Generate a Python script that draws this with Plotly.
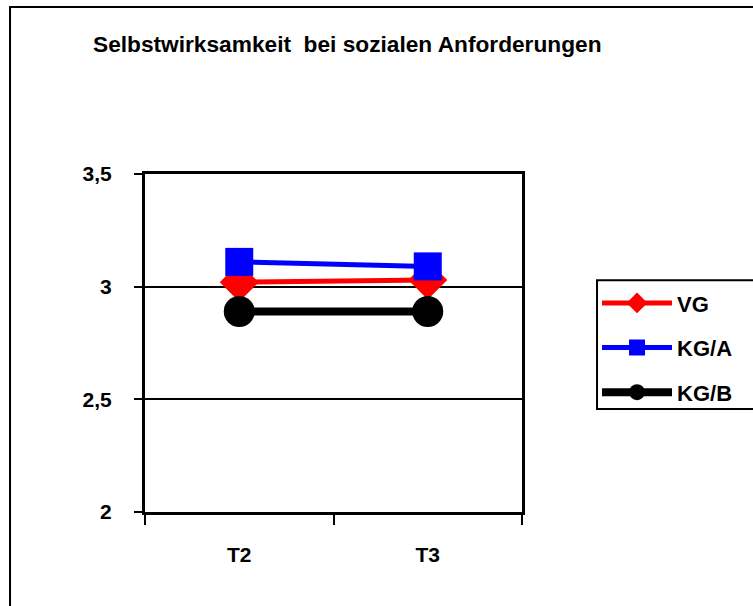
import plotly.graph_objects as go

zeitpunkte = ["T2", "T3"]
vg = [3.02, 3.03]
kg_a = [3.11, 3.09]
kg_b = [2.89, 2.89]

FONT = "Liberation Sans"

fig = go.Figure()
fig.add_trace(go.Scatter(
    x=zeitpunkte, y=vg, name="<b>VG</b>", mode="lines+markers", legendgroup="a",
    line=dict(color="#ff0000", width=5),
    marker=dict(symbol="diamond", size=30, color="#ff0000"),
))
fig.add_trace(go.Scatter(
    x=zeitpunkte, y=kg_a, name="<b>KG/A</b>", mode="lines+markers", legendgroup="b",
    line=dict(color="#0000ff", width=5),
    marker=dict(symbol="square", size=28, color="#0000ff"),
))
fig.add_trace(go.Scatter(
    x=zeitpunkte, y=kg_b, name="<b>KG/B</b>", mode="lines+markers", legendgroup="c",
    line=dict(color="#000000", width=8),
    marker=dict(symbol="circle", size=31, color="#000000"),
))

# outer frame of the chart (left and top edges visible, the rest runs off the page)
fig.add_shape(type="rect", xref="paper", yref="paper",
              x0=-0.358, x1=3, y0=-1, y1=1.494,
              line=dict(color="black", width=2), layer="below")
# legend frame, cut off at the right edge like in the original
fig.add_shape(type="rect", xref="paper", yref="paper",
              x0=1.199, x1=3, y0=0.305, y1=0.686,
              line=dict(color="black", width=2), layer="below")

fig.update_layout(
    width=753, height=606,
    paper_bgcolor="white", plot_bgcolor="white",
    separators=", ",
    font=dict(family=FONT, size=21, color="black"),
    title=dict(
        text="<b>Selbstwirksamkeit  bei sozialen Anforderungen</b>",
        xref="container", x=93 / 753, xanchor="left",
        yref="container", y=1 - 44 / 606, yanchor="middle",
        font=dict(family=FONT, size=22.7, color="black"),
    ),
    margin=dict(l=145, r=231, t=174, b=94, autoexpand=False),
    showlegend=True,
    legend=dict(
        x=1.199, xanchor="left", y=0.68, yanchor="top",
        borderwidth=0, bgcolor="rgba(0,0,0,0)",
        font=dict(family=FONT, size=22, color="black"),
        itemwidth=70, tracegroupgap=13,
    ),
)
fig.update_xaxes(
    type="category", range=[-0.5, 1.5],
    showline=True, linecolor="black", linewidth=3, mirror=True,
    ticks="outside", tickson="boundaries", ticklen=10, tickwidth=2, tickcolor="black",
    showgrid=False, tickfont=dict(family=FONT, size=21, color="black"),
    ticklabelstandoff=22,
    tickprefix="<b>", ticksuffix="</b>",
)
fig.update_yaxes(
    range=[2, 3.5], dtick=0.5, tick0=2,
    showline=True, linecolor="black", linewidth=3, mirror=True,
    ticks="outside", ticklen=8, tickwidth=2, tickcolor="black",
    showgrid=True, gridcolor="black", gridwidth=2, zeroline=False,
    tickfont=dict(family=FONT, size=21, color="black"),
    ticklabelstandoff=18,
    tickprefix="<b>", ticksuffix="</b>",
)

fig.write_html("out.html", config={"displayModeBar": False},
               post_script="document.body.style.margin = '0';")
